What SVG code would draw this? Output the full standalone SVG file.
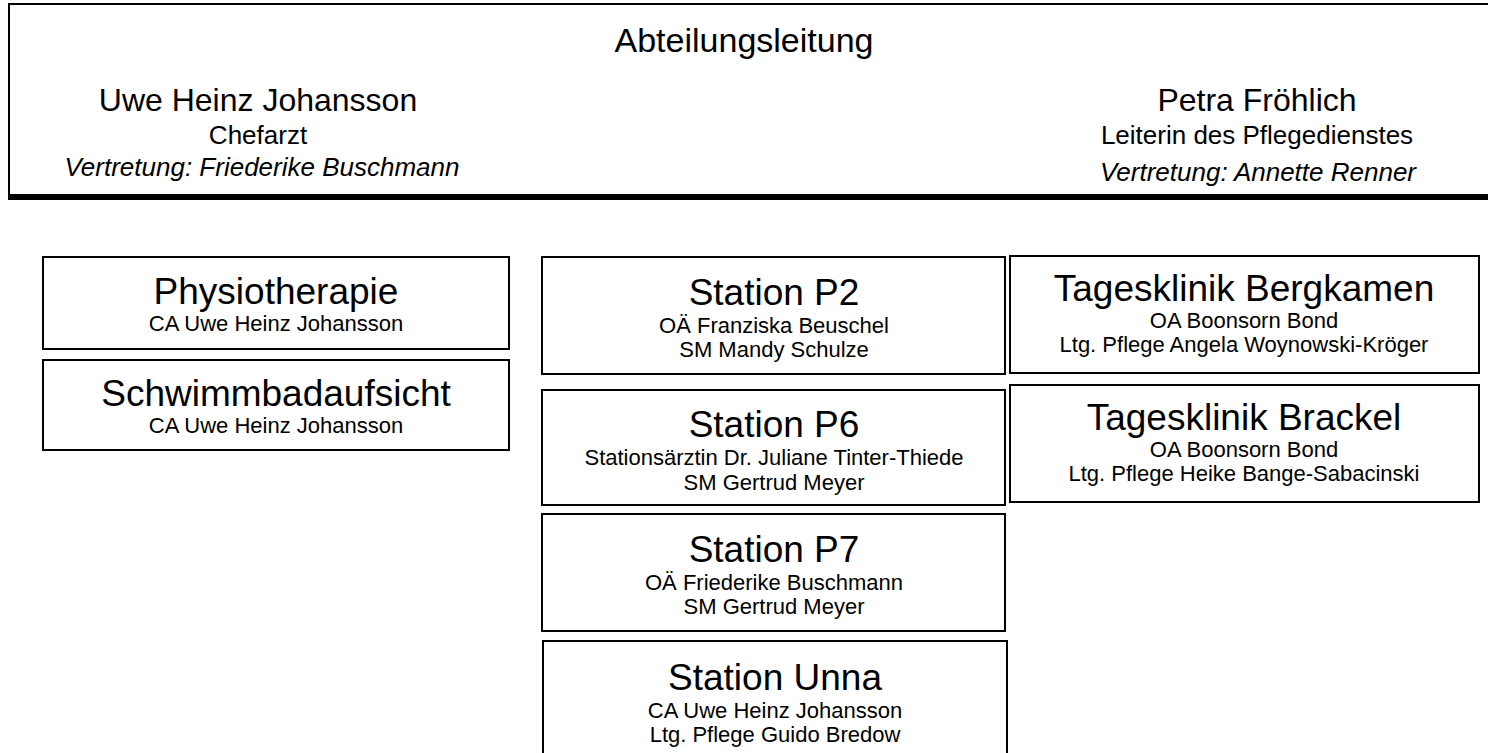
<svg xmlns="http://www.w3.org/2000/svg" width="1488" height="753" viewBox="0 0 1488 753">
<style>
text{font-family:"Liberation Sans",Arial,sans-serif;fill:#000;text-anchor:middle}
.box{fill:#fff;stroke:#000;stroke-width:2}
.h{font-size:34px}
.n{font-size:32px}
.s{font-size:26px}
.i{font-size:26px;font-style:italic}
.t{font-size:37px}
.l{font-size:22px}
</style>
<rect width="1488" height="753" fill="#fff"/>
<g id="leitung">
<rect class="box" x="9" y="4" width="1500" height="191"/>
<line x1="8" y1="197" x2="1488" y2="197" stroke="#000" stroke-width="6"/>
<text class="h" x="744" y="52">Abteilungsleitung</text>
<text class="n" x="258" y="111">Uwe Heinz Johansson</text>
<text class="s" x="258" y="144">Chefarzt</text>
<text class="i" x="262" y="176">Vertretung: Friederike Buschmann</text>
<text class="n" x="1257" y="111">Petra Fröhlich</text>
<text class="s" x="1257" y="144">Leiterin des Pflegedienstes</text>
<text class="i" x="1258" y="181">Vertretung: Annette Renner</text>
</g>
<g id="connectors"></g>
<g id="physio">
<rect class="box" x="43" y="257" width="466" height="92"/>
<text class="t" x="276" y="304">Physiotherapie</text>
<text class="l" x="276" y="331">CA Uwe Heinz Johansson</text>
</g>
<g id="schwimm">
<rect class="box" x="43" y="360" width="466" height="90"/>
<text class="t" x="276" y="406">Schwimmbadaufsicht</text>
<text class="l" x="276" y="433">CA Uwe Heinz Johansson</text>
</g>
<g id="p2">
<rect class="box" x="542" y="257" width="463" height="117"/>
<text class="t" x="774" y="305">Station P2</text>
<text class="l" x="774" y="333">OÄ Franziska Beuschel</text>
<text class="l" x="774" y="357">SM Mandy Schulze</text>
</g>
<g id="p6">
<rect class="box" x="542" y="390" width="463" height="115"/>
<text class="t" x="774" y="437">Station P6</text>
<text class="l" x="774" y="465">Stationsärztin Dr. Juliane Tinter-Thiede</text>
<text class="l" x="774" y="490">SM Gertrud Meyer</text>
</g>
<g id="p7">
<rect class="box" x="542" y="514" width="463" height="117"/>
<text class="t" x="774" y="562">Station P7</text>
<text class="l" x="774" y="590">OÄ Friederike Buschmann</text>
<text class="l" x="774" y="614">SM Gertrud Meyer</text>
</g>
<g id="unna">
<rect class="box" x="543" y="641" width="464" height="130"/>
<text class="t" x="775" y="690">Station Unna</text>
<text class="l" x="775" y="718">CA Uwe Heinz Johansson</text>
<text class="l" x="775" y="742">Ltg. Pflege Guido Bredow</text>
</g>
<g id="bergkamen">
<rect class="box" x="1010" y="256" width="469" height="117"/>
<text class="t" x="1244" y="301">Tagesklinik Bergkamen</text>
<text class="l" x="1244" y="328">OA Boonsorn Bond</text>
<text class="l" x="1244" y="352">Ltg. Pflege Angela Woynowski-Kröger</text>
</g>
<g id="brackel">
<rect class="box" x="1010" y="385" width="469" height="117"/>
<text class="t" x="1244" y="430">Tagesklinik Brackel</text>
<text class="l" x="1244" y="457">OA Boonsorn Bond</text>
<text class="l" x="1244" y="481">Ltg. Pflege Heike Bange-Sabacinski</text>
</g>
</svg>
